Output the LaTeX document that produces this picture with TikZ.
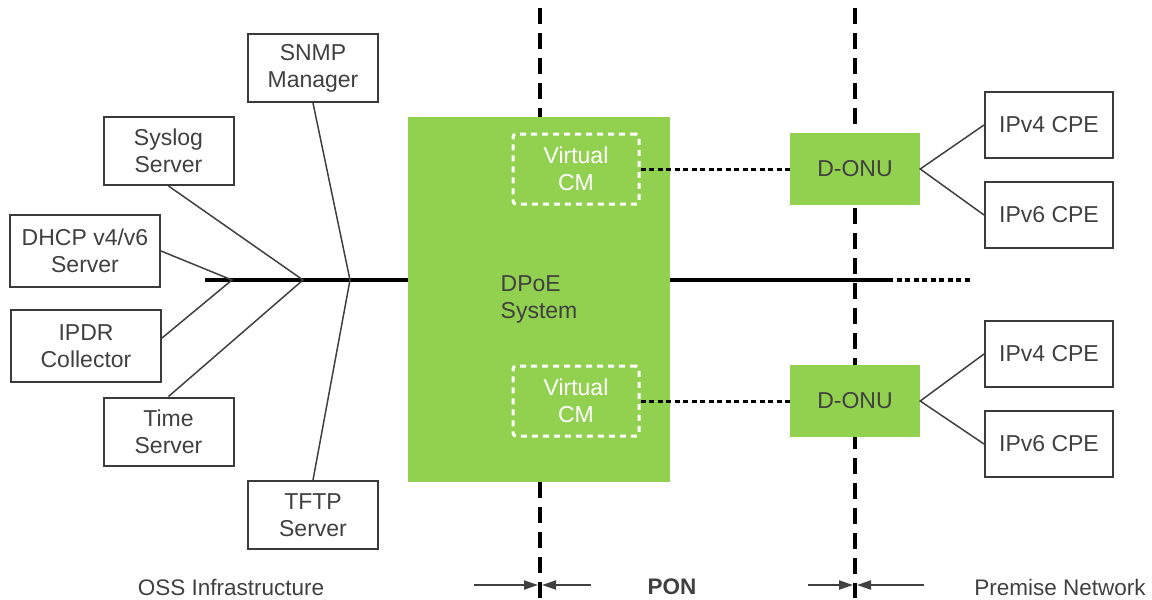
\documentclass[tikz,border=0pt]{standalone}
\usepackage{fontspec}
\setmainfont{Liberation Sans}
\usetikzlibrary{positioning, arrows.meta}
\definecolor{dpoegreen}{HTML}{92D050}
\definecolor{inkgray}{HTML}{404040}
\tikzset{x=1pt, y=-1pt, % One unit is one pixel of the reference, y runs down
every node/.style={ % Sets the properties for each text
font=\fontsize{23}{27}\selectfont,
text=inkgray,
align=center},
server/.style={ % White boxes of the OSS side
draw=inkgray!90!black, line width=2pt, fill=white,
minimum width=130pt, minimum height=68pt},
cpe/.style={server, minimum width=128pt, minimum height=66pt},
greenbox/.style={fill=dpoegreen, minimum width=130pt, minimum height=72pt},
vcm/.style={ % Virtual CM inside the DPoE system
draw=white, text=white, line width=3pt,
dash pattern=on 6pt off 5pt, rounded corners=3pt,
minimum width=126pt, minimum height=70pt},
link/.style={draw=inkgray, line width=1.5pt},
bus/.style={draw=black, line width=3.5pt},
dotline/.style={draw=black, line width=3pt, dash pattern=on 5pt off 3.5pt},
ponline/.style={draw=black, line width=3.5pt, dash pattern=on 16pt off 9pt},
spanarrow/.style={draw=inkgray, line width=2pt, -{Triangle[length=14pt, width=9pt]}},
regionlabel/.style={font=\fontsize{22.5}{27}\selectfont}}

\begin{document}
\begin{tikzpicture}
    \useasboundingbox (0,0) rectangle (1152,600);
    % borders between the three regions
    \coordinate (pontop) at (540,8);
    \coordinate (ponbot) at (540,598);
    \coordinate (premtop) at (855,8);
    \coordinate (prembot) at (855,598);
    \draw[ponline] (premtop) -- (prembot);

    \node[greenbox, minimum width=262pt, minimum height=365pt, align=left] (dpoe) at (539,299.5) {DPoE\\System};
    \draw[ponline] (pontop) -- (pontop |- dpoe.north);
    \draw[ponline] (ponbot |- dpoe.south) -- (ponbot);

    \node[vcm] (vcm1) at (576,169) {Virtual\\CM};
    \node[vcm] (vcm2) at (576,401) {Virtual\\CM};
    \node[greenbox] (onu1) at (855,169) {D-ONU};
    \node[greenbox] (onu2) at (855,401) {D-ONU};
    \node[cpe] (cpe4a) at (1049,125) {IPv4 CPE};
    \node[cpe, below=22pt of cpe4a] (cpe6a) {IPv6 CPE};
    \node[cpe] (cpe4b) at (1049,354) {IPv4 CPE};
    \node[cpe, below=22pt of cpe4b] (cpe6b) {IPv6 CPE};

    % OSS servers
    \node[server] (snmp) at (313,68) {SNMP\\Manager};
    \node[server] (syslog) at (168.5,151) {Syslog\\Server};
    \node[server, minimum width=150pt, minimum height=72pt] (dhcp) at (85,251) {DHCP v4/v6\\Server};
    \node[server, minimum width=150pt, minimum height=72pt] (ipdr) at (86,346) {IPDR\\Collector};
    \node[server] (time) at (168.5,431.5) {Time\\Server};
    \node[server] (tftp) at (313,515) {TFTP\\Server};

    % backbone
    \coordinate (busstart) at (205,280);
    \coordinate (j1) at (232,280);
    \coordinate (j2) at (303,280);
    \coordinate (j3) at (350,280);
    \coordinate (busend) at (888,280);
    \coordinate (dotend) at (970,280);
    \draw[bus] (busstart) -- (dpoe.west |- busstart);
    \draw[bus] (dpoe.east |- busstart) -- (busend);
    \draw[dotline, line width=4pt] (busend) -- (dotend);

    \draw[link] (dhcp.east) -- (j1) -- (ipdr.6);
    \draw[link] (syslog.south) -- (j2) -- (time.north);
    \draw[link] (snmp.south) -- (j3) -- (tftp.north);

    \draw[dotline] (vcm1.east) -- (onu1.west);
    \draw[dotline] (vcm2.east) -- (onu2.west);
    \draw[link] (cpe4a.west) -- (onu1.east) -- (cpe6a.west);
    \draw[link] (cpe4b.west) -- (onu2.east) -- (cpe6b.west);

    % region labels
    \node[regionlabel] (oss) at (231,587) {OSS Infrastructure};
    \node[regionlabel, font=\fontsize{22.5}{27}\selectfont\bfseries] (pon) at (672,587) {PON};
    \node[regionlabel] (prem) at (1060,587) {Premise Network};
    \coordinate (ponl) at (474,585);
    \coordinate (ponlt) at (538,585);
    \coordinate (ponr) at (591,585);
    \coordinate (ponrt) at (542,585);
    \coordinate (preml) at (808,585);
    \coordinate (premlt) at (853,585);
    \coordinate (premr) at (924,585);
    \coordinate (premrt) at (857,585);
    \draw[spanarrow] (ponl) -- (ponlt);
    \draw[spanarrow] (ponr) -- (ponrt);
    \draw[spanarrow] (preml) -- (premlt);
    \draw[spanarrow] (premr) -- (premrt);
\end{tikzpicture}
\end{document}
